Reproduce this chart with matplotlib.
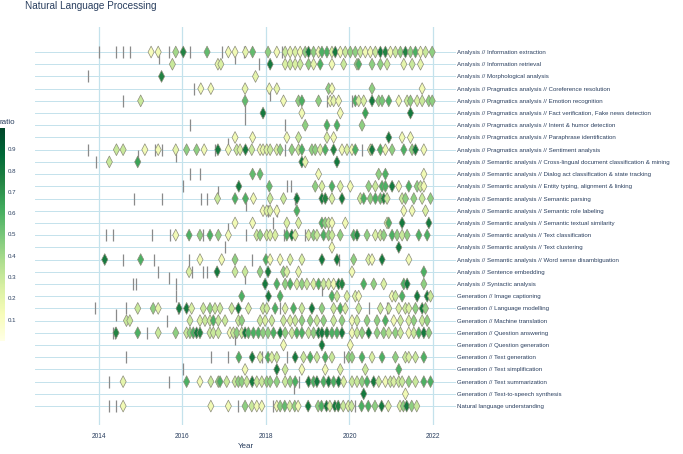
import matplotlib
matplotlib.use("Agg")
import matplotlib.pyplot as plt
from matplotlib.path import Path
from matplotlib.cm import ScalarMappable
from matplotlib.colors import Normalize

plt.rcParams['font.family'] = ['Liberation Sans', 'DejaVu Sans']

tasks = [
    "Analysis // Information extraction",
    "Analysis // Information retrieval",
    "Analysis // Morphological analysis",
    "Analysis // Pragmatics analysis // Coreference resolution",
    "Analysis // Pragmatics analysis // Emotion recognition",
    "Analysis // Pragmatics analysis // Fact verification, Fake news detection",
    "Analysis // Pragmatics analysis // Intent & humor detection",
    "Analysis // Pragmatics analysis // Paraphrase identification",
    "Analysis // Pragmatics analysis // Sentiment analysis",
    "Analysis // Semantic analysis // Cross-lingual document classification & mining",
    "Analysis // Semantic analysis // Dialog act classification & state tracking",
    "Analysis // Semantic analysis // Entity typing, alignment & linking",
    "Analysis // Semantic analysis // Semantic parsing",
    "Analysis // Semantic analysis // Semantic role labeling",
    "Analysis // Semantic analysis // Semantic textual similarity",
    "Analysis // Semantic analysis // Text classification",
    "Analysis // Semantic analysis // Text clustering",
    "Analysis // Semantic analysis // Word sense disambiguation",
    "Analysis // Sentence embedding",
    "Analysis // Syntactic analysis",
    "Generation // Image captioning",
    "Generation // Language modelling",
    "Generation // Machine translation",
    "Generation // Question answering",
    "Generation // Question generation",
    "Generation // Text generation",
    "Generation // Text simplification",
    "Generation // Text summarization",
    "Generation // Text-to-speech synthesis",
    "Natural language understanding",
]

# (year, ratio) pairs per task
years = [
    [2015.25, 2015.42, 2015.84, 2016.02, 2016.59, 2017.10, 2017.26, 2017.51, 2017.68, 2018.05, 2018.26, 2018.46, 2018.58, 2018.70, 2018.82, 2018.94, 2019.02, 2019.14, 2019.26, 2019.34, 2019.46, 2019.58, 2019.66, 2019.78, 2019.90, 2020.02, 2020.14, 2020.26, 2020.38, 2020.50, 2020.62, 2020.74, 2020.86, 2020.98, 2021.10, 2021.22, 2021.34, 2021.46, 2021.58, 2021.70, 2021.82, 2021.98],
    [2015.76, 2016.85, 2016.92, 2018.10, 2018.46, 2018.58, 2018.70, 2018.82, 2019.02, 2019.14, 2019.30, 2019.58, 2019.86, 2020.18, 2020.22, 2020.54, 2020.74, 2020.90, 2021.30, 2021.50, 2021.70],
    [2015.50, 2017.75],
    [2016.44, 2016.68, 2017.50, 2018.08, 2018.26, 2019.50, 2019.58, 2020.54, 2021.74],
    [2015.00, 2017.50, 2018.42, 2018.78, 2018.86, 2019.26, 2019.54, 2019.62, 2019.74, 2020.14, 2020.22, 2020.34, 2020.54, 2020.70, 2020.78, 2020.94, 2021.18, 2021.38, 2021.46, 2021.62, 2021.74, 2021.90, 2021.98],
    [2017.93, 2018.86, 2019.78, 2020.38, 2021.46],
    [2018.94, 2019.46, 2019.70, 2020.30],
    [2017.26, 2017.68, 2018.50, 2018.78, 2019.46, 2019.62, 2020.94, 2021.26, 2021.46],
    [2014.42, 2014.58, 2015.10, 2015.42, 2015.84, 2016.10, 2016.34, 2016.52, 2016.85, 2017.10, 2017.30, 2017.38, 2017.51, 2017.66, 2017.86, 2017.93, 2018.02, 2018.10, 2018.26, 2018.34, 2018.62, 2018.78, 2018.86, 2019.10, 2019.18, 2019.30, 2019.42, 2019.62, 2019.82, 2019.94, 2020.06, 2020.14, 2020.50, 2020.54, 2020.74, 2020.86, 2021.02, 2021.30, 2021.50, 2021.58, 2021.78],
    [2014.25, 2014.93, 2018.86, 2018.94, 2019.70],
    [2017.68, 2017.86, 2019.26, 2020.70, 2020.86, 2021.78],
    [2017.35, 2018.08, 2019.18, 2019.34, 2019.58, 2019.78, 2020.02, 2020.46, 2020.62, 2020.78, 2020.86, 2021.02, 2021.18, 2021.42, 2021.62, 2021.70, 2021.78],
    [2016.84, 2017.26, 2017.51, 2017.70, 2018.10, 2018.42, 2018.74, 2019.34, 2019.42, 2019.58, 2019.82, 2020.26, 2020.34, 2020.50, 2020.62, 2020.74, 2020.82, 2020.90, 2021.26, 2021.34, 2021.54, 2021.74, 2021.94],
    [2017.93, 2018.02, 2018.10, 2018.26, 2018.74, 2021.30, 2021.50, 2021.82],
    [2017.26, 2017.68, 2018.50, 2018.78, 2019.34, 2019.42, 2019.50, 2019.58, 2019.90, 2020.90, 2020.94, 2021.26, 2021.90],
    [2015.84, 2016.16, 2016.42, 2016.66, 2016.86, 2017.10, 2017.78, 2017.86, 2018.02, 2018.10, 2018.22, 2018.50, 2018.62, 2018.70, 2019.02, 2019.14, 2019.22, 2019.38, 2019.50, 2019.58, 2019.78, 2020.10, 2020.18, 2020.42, 2020.62, 2020.74, 2020.82, 2021.02, 2021.14, 2021.26, 2021.38, 2021.66, 2021.86],
    [2019.58, 2021.18],
    [2014.14, 2015.00, 2016.42, 2016.94, 2017.26, 2018.00, 2018.10, 2018.34, 2018.58, 2018.86, 2019.34, 2019.70, 2020.10, 2020.46, 2020.54, 2020.78, 2021.42],
    [2016.16, 2016.83, 2017.26, 2017.50, 2017.86, 2018.05, 2018.42, 2018.50, 2018.78, 2020.06, 2021.78],
    [2017.98, 2018.26, 2018.46, 2018.58, 2018.74, 2018.86, 2018.98, 2019.14, 2019.26, 2019.38, 2019.50, 2019.62, 2019.74, 2019.82, 2020.34, 2020.58, 2020.82, 2021.30, 2021.38, 2021.78],
    [2017.42, 2018.06, 2018.34, 2019.58, 2019.70, 2019.94, 2020.14, 2020.22, 2021.02, 2021.10, 2021.26, 2021.62, 2021.86, 2021.94],
    [2014.93, 2015.30, 2015.42, 2015.92, 2016.10, 2016.22, 2016.50, 2016.66, 2016.78, 2016.90, 2017.18, 2017.34, 2017.58, 2017.93, 2018.02, 2018.22, 2018.46, 2018.66, 2018.86, 2019.10, 2019.34, 2019.62, 2019.78, 2019.90, 2020.22, 2020.74, 2020.94, 2021.18, 2021.34, 2021.42, 2021.58, 2021.74, 2021.82],
    [2014.66, 2014.74, 2016.18, 2016.42, 2016.54, 2016.66, 2016.74, 2016.86, 2017.02, 2017.34, 2017.42, 2017.86, 2017.98, 2018.14, 2018.42, 2018.58, 2018.70, 2018.86, 2019.06, 2019.22, 2019.38, 2019.62, 2019.82, 2020.06, 2020.18, 2020.42, 2020.66, 2020.86, 2021.06, 2021.22, 2021.42, 2021.54, 2021.74, 2021.86],
    [2014.41, 2014.93, 2015.42, 2015.84, 2016.10, 2016.18, 2016.26, 2016.34, 2016.42, 2016.66, 2016.74, 2016.86, 2017.14, 2017.22, 2017.30, 2017.42, 2017.50, 2017.58, 2017.70, 2017.82, 2017.93, 2018.05, 2018.18, 2018.34, 2018.46, 2018.62, 2018.74, 2018.86, 2019.02, 2019.14, 2019.26, 2019.34, 2019.46, 2019.58, 2019.70, 2019.82, 2020.06, 2020.18, 2020.30, 2020.46, 2020.66, 2020.82, 2020.94, 2021.10, 2021.22, 2021.42, 2021.54, 2021.66, 2021.78, 2021.90],
    [2018.42, 2019.34, 2020.02],
    [2017.35, 2017.67, 2017.86, 2018.05, 2018.14, 2018.26, 2018.70, 2018.90, 2019.06, 2019.22, 2019.42, 2019.58, 2019.98, 2020.06, 2020.30, 2020.54, 2020.78, 2021.10, 2021.34, 2021.42, 2021.58, 2021.78],
    [2017.50, 2018.26, 2018.46, 2018.86, 2019.42, 2019.78, 2020.38, 2021.18],
    [2014.58, 2016.10, 2016.42, 2016.68, 2016.86, 2016.90, 2017.06, 2017.26, 2017.34, 2017.42, 2017.54, 2017.67, 2017.78, 2017.90, 2018.02, 2018.10, 2018.26, 2018.46, 2018.58, 2018.70, 2019.02, 2019.14, 2019.22, 2019.38, 2019.50, 2019.62, 2019.74, 2019.86, 2020.06, 2020.18, 2020.30, 2020.42, 2020.58, 2020.70, 2020.86, 2020.98, 2021.06, 2021.18, 2021.26, 2021.42, 2021.58, 2021.78, 2021.94],
    [2020.34, 2021.34],
    [2014.58, 2016.68, 2017.10, 2017.50, 2017.66, 2017.78, 2017.90, 2018.26, 2018.34, 2018.45, 2018.57, 2018.69, 2018.77, 2019.01, 2019.25, 2019.33, 2019.45, 2019.53, 2019.65, 2019.73, 2019.85, 2019.97, 2020.05, 2020.29, 2020.45, 2020.61, 2020.77, 2020.93, 2021.21, 2021.29, 2021.37, 2021.49, 2021.61],
]

ratios = [
    [.12, .15, .40, .75, .55, .15, .15, .20, .55, .45, .15, .30, .20, .25, .15, .45, .80, .45, .15, .60, .60, .25, .80, .15, .30, .45, .45, .30, .15, .15, .30, .80, .75, .15, .30, .45, .75, .45, .60, .15, .30, .45],
    [.30, .20, .25, .80, .25, .30, .25, .30, .45, .20, .60, .15, .30, .45, .60, .45, .45, .30, .20, .30, .20],
    [.75, .20],
    [.15, .15, .20, .15, .20, .45, .15, .45, .15],
    [.30, .55, .15, .45, .60, .45, .15, .20, .15, .60, .25, .25, .80, .45, .50, .60, .15, .30, .45, .25, .30, .45, .45],
    [.80, .15, .15, .65, .80],
    [.45, .60, .60, .45],
    [.15, .15, .15, .30, .25, .15, .80, .15, .15],
    [.30, .30, .15, .15, .20, .45, .45, .15, .80, .15, .30, .25, .80, .30, .15, .20, .25, .30, .25, .45, .45, .30, .60, .45, .45, .25, .60, .75, .15, .25, .15, .60, .25, .80, .60, .15, .45, .60, .45, .80, .15],
    [.30, .65, .80, .20, .80],
    [.55, .55, .15, .45, .60, .15],
    [.80, .55, .45, .25, .60, .25, .15, .45, .30, .60, .60, .80, .15, .60, .45, .30, .15],
    [.30, .60, .60, .15, .30, .30, .80, .80, .75, .25, .80, .30, .60, .45, .60, .55, .75, .30, .30, .45, .45, .30, .45],
    [.15, .25, .25, .15, .60, .15, .15, .25],
    [.15, .15, .25, .25, .60, .45, .30, .15, .15, .25, .60, .80, .80],
    [.15, .60, .45, .60, .45, .15, .30, .45, .30, .25, .25, .60, .80, .25, .25, .45, .30, .60, .45, .30, .45, .60, .75, .45, .25, .30, .45, .60, .45, .30, .45, .60, .60],
    [.15, .80],
    [.80, .60, .15, .15, .45, .60, .15, .15, .25, .25, .80, .80, .45, .25, .15, .80, .15],
    [.25, .80, .30, .30, .45, .80, .45, .25, .20, .15, .60],
    [.80, .60, .45, .60, .25, .45, .30, .25, .60, .30, .25, .15, .80, .75, .60, .45, .25, .60, .80, .45],
    [.60, .80, .60, .60, .30, .25, .25, .15, .15, .30, .60, .80, .80, .30],
    [.30, .45, .20, .80, .80, .25, .30, .45, .30, .30, .30, .80, .25, .30, .30, .60, .25, .60, .30, .80, .45, .30, .60, .25, .30, .30, .30, .25, .30, .25, .45, .80, .45],
    [.30, .30, .30, .25, .30, .30, .60, .30, .30, .30, .45, .30, .25, .30, .30, .25, .30, .45, .45, .30, .45, .30, .45, .15, .30, .45, .45, .60, .15, .30, .25, .45, .30, .45],
    [.75, .60, .30, .45, .30, .45, .60, .80, .75, .30, .30, .30, .15, .30, .45, .30, .80, .60, .60, .60, .45, .45, .60, .80, .45, .30, .60, .60, .30, .45, .80, .80, .75, .60, .60, .80, .15, .30, .45, .80, .45, .45, .30, .45, .30, .15, .30, .60, .80, .45],
    [.15, .80, .15],
    [.60, .80, .25, .60, .25, .30, .80, .30, .60, .30, .60, .30, .45, .45, .60, .25, .60, .45, .30, .25, .30, .60],
    [.15, .80, .30, .15, .15, .25, .30, .60],
    [.20, .60, .15, .30, .45, .60, .30, .30, .45, .45, .30, .80, .30, .30, .45, .45, .45, .30, .45, .60, .80, .60, .80, .60, .80, .60, .80, .25, .30, .30, .45, .60, .80, .30, .15, .30, .25, .30, .30, .45, .30, .60, .60],
    [.80, .15],
    [.15, .15, .15, .45, .30, .15, .15, .15, .45, .55, .25, .45, .15, .80, .45, .60, .80, .25, .80, .75, .30, .25, .30, .60, .60, .45, .80, .25, .25, .45, .80, .45, .30],
]

# grey tick marks (year, row position)
tick_years = [2014.01, 2014.42, 2014.58, 2014.74, 2015.68, 2016.18, 2016.94, 2017.47, 2018.38,
              2015.44, 2017.26, 2017.84, 2013.74, 2016.28, 2018.10, 2014.58, 2019.46, 2020.06,
              2017.50, 2017.50, 2016.18, 2018.45, 2017.10,
              2013.74, 2015.34, 2015.50, 2016.78, 2018.46, 2020.30, 2014.93, 2015.84, 2013.93,
              2016.18, 2016.42, 2016.01, 2018.50, 2018.61, 2016.84,
              2014.84, 2015.50, 2016.44, 2016.58, 2018.70, 2017.51, 2018.06, 2018.26, 2018.18, 2017.10,
              2014.17, 2014.33, 2015.26, 2015.70, 2016.50, 2017.51, 2018.42, 2018.94, 2017.02,
              2014.58, 2015.32, 2016.16, 2017.67, 2019.74, 2015.42, 2016.24, 2016.50, 2016.58,
              2015.68, 2017.50, 2014.82, 2014.90, 2015.84, 2019.34, 2015.84,
              2013.90, 2014.66, 2015.90, 2018.34, 2020.46, 2020.90, 2014.42, 2015.62,
              2014.33, 2014.38, 2015.16, 2017.26,
              2014.66, 2016.68, 2017.10, 2017.90, 2018.50, 2019.86, 2016.02,
              2014.25, 2015.68, 2018.78, 2018.66, 2014.25, 2014.42, 2017.34, 2018.17, 2020.13]
tick_rows = [0, 0, 0, 0, 0, 0, 0, 0, 0,
             0.5, 0.5, 1, 2, 3, 3.5, 4, 4, 4,
             4.5, 5.5, 6, 6, 7.5,
             8, 8, 8, 8, 8, 8, 8.5, 8.5, 9,
             10, 10, 11, 11, 11, 11.5,
             12, 12, 12, 12, 12, 12.5, 13, 13, 14, 14.5,
             15, 15, 15, 15, 15, 15, 15, 15, 16,
             17, 17, 17, 17, 17, 18, 18, 18, 18,
             18.5, 18.5, 19, 19, 19, 19.5, 20,
             21, 21, 21, 21, 21, 21, 21.5, 22,
             23, 23, 23, 23.5,
             25, 25, 25, 25, 25, 25, 26,
             27, 27, 27, 27.5, 29, 29, 29, 29, 29]

year_ticks = [2014, 2016, 2018, 2020, 2022]

text_color = '#2a3f5f'
grid_color = '#c4e2ec'
cmap = plt.get_cmap('YlGn')
norm = Normalize(vmin=0, vmax=1)
diamond = Path([(0, 1), (0.52, 0), (0, -1), (-0.52, 0), (0, 1)],
               [Path.MOVETO, Path.LINETO, Path.LINETO, Path.LINETO, Path.CLOSEPOLY])

fig = plt.figure(figsize=(6.83, 4.54), dpi=100)
ax = fig.add_axes([35 / 683, 29 / 454, 421 / 683, 398 / 454])

ax.plot(tick_years, tick_rows, linestyle='none', marker='|', markersize=9,
        markeredgewidth=0.9, color='#8a8a8a', zorder=2)

for row, (ys, rs) in enumerate(zip(years, ratios)):
    ax.scatter(ys, [row] * len(ys), c=rs, cmap=cmap, norm=norm, marker=diamond,
               s=72, edgecolors='#8c8c7a', linewidths=0.5, zorder=3)

ax.set_xlim(2012.47, 2022.55)
ax.set_ylim(30.55, -2.05)
ax.set_xticks(year_ticks)
ax.set_xticklabels([str(y) for y in year_ticks])
ax.set_yticks(range(len(tasks)))
ax.set_yticklabels(tasks)
ax.yaxis.tick_right()
ax.tick_params(axis='y', length=0, pad=1, labelsize=4.45, labelcolor=text_color)
ax.tick_params(axis='x', length=0, pad=6, labelsize=4.8, labelcolor=text_color)
ax.grid(True, axis='y', color=grid_color, linewidth=0.7, zorder=0)
ax.grid(True, axis='x', color=grid_color, linewidth=0.9, zorder=0)
ax.set_axisbelow(True)
for s in ax.spines.values():
    s.set_visible(False)
ax.set_xlabel('Year', fontsize=5.8, color=text_color, labelpad=2)

fig.text(25 / 683, 1 - 6 / 454, 'Natural Language Processing', fontsize=7.2,
         color=text_color, va='center', ha='left')

cax = fig.add_axes([0, 113 / 454, 5 / 683, 213 / 454])
cb = fig.colorbar(ScalarMappable(norm=norm, cmap=cmap), cax=cax)
cb.outline.set_visible(False)
cb.set_ticks([0.1, 0.2, 0.3, 0.4, 0.5, 0.6, 0.7, 0.8, 0.9])
cb.ax.tick_params(length=0, pad=2, labelsize=4.4, labelcolor=text_color)
cax.text(0, 1.008, 'ratio', transform=cax.transAxes, ha='left', va='bottom',
         fontsize=5.8, color=text_color)

fig.savefig('out.png', dpi=100, facecolor='white')
